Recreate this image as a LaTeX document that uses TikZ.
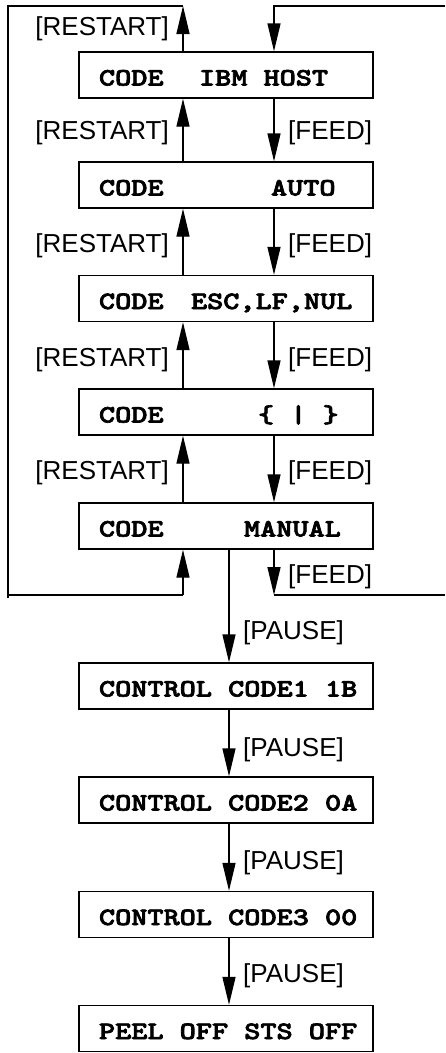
\documentclass[tikz,border=0pt]{standalone}
\usepackage{fontspec}
\usepackage{graphicx}
\usetikzlibrary{arrows.meta}
\newfontfamily\labfont{Liberation Sans}
\newfontfamily\boxfont{lmmonolt10-bold.otf}[FakeBold=2.5]
\newcommand\sx[1]{\scalebox{1.23}[1]{#1}}
\newcommand\cdline[2]{\makebox[294pt][l]{\hspace{20pt}\makebox[#1][l]{\sx{CODE}}\sx{#2}}}
\newcommand\ctline[1]{\makebox[294pt][l]{\hspace{20pt}\sx{#1}}}
\begin{document}
\begin{tikzpicture}[x=1pt,y=-1pt,
  box/.style={draw, line width=1.4pt, minimum width=294pt, minimum height=46pt, inner sep=0pt,
    text height=21pt, text depth=0pt, font=\boxfont\fontsize{25}{25}\selectfont},
  arr/.style={line width=1.4pt, -{Triangle[length=28pt,width=13pt]}},
  ln/.style={line width=1.4pt},
  lab/.style={inner sep=0pt, font=\labfont\fontsize{26}{26}\selectfont}]
\useasboundingbox (0,0) rectangle (445,1053);
% boxes
\node[box] (b1) at (226,75) {\cdline{100pt}{IBM HOST}};
\node[box] (b2) at (226,185) {\cdline{172pt}{AUTO}};
\node[box] (b3) at (226,298.5) {\cdline{92pt}{ESC,LF,NUL}};
\node[box] (b4) at (226,412) {\cdline{159pt}{\{ | \}}};
\node[box] (b5) at (226,526) {\cdline{145pt}{MANUAL}};
\node[box] (c1) at (226,686) {\ctline{CONTROL CODE1 1B}};
\node[box] (c2) at (226,800) {\ctline{CONTROL CODE2 0A}};
\node[box] (c3) at (226,914.5) {\ctline{CONTROL CODE3 00}};
\node[box] (c4) at (226,1028.5) {\ctline{PEEL OFF STS OFF}};
% reference columns and corners
\coordinate (ux) at (183,0);
\coordinate (dx) at (274,0);
\coordinate (px) at (229,0);
\coordinate (tl1) at (183,6);
\coordinate (tl2) at (8,6);
\coordinate (bl1) at (8,595);
\coordinate (bl1e) at (8,598);
\coordinate (bl2) at (183,595);
\coordinate (tr1) at (445,6);
\coordinate (tr2) at (274,6);
\coordinate (br1) at (274,595);
\coordinate (br2) at (445,595);
% restart arrows
\draw[arr] (b2.north -| ux) -- (b1.south -| ux);
\draw[arr] (b3.north -| ux) -- (b2.south -| ux);
\draw[arr] (b4.north -| ux) -- (b3.south -| ux);
\draw[arr] (b5.north -| ux) -- (b4.south -| ux);
\draw[arr] (b1.north -| ux) -- (tl1);
\draw[ln] (tl1) -- (tl2) -- (bl1e);
\draw[ln] (bl1) -- (bl2);
\draw[arr] (bl2) -- (b5.south -| ux);
% feed arrows
\draw[arr] (tr1) -- (tr2) -- (b1.north -| dx);
\draw[arr] (b1.south -| dx) -- (b2.north -| dx);
\draw[arr] (b2.south -| dx) -- (b3.north -| dx);
\draw[arr] (b3.south -| dx) -- (b4.north -| dx);
\draw[arr] (b4.south -| dx) -- (b5.north -| dx);
\draw[arr] (b5.south -| dx) -- (br1);
\draw[ln] (br1) -- (br2);
% pause arrows
\draw[arr] (b5.south -| px) -- (c1.north -| px);
\draw[arr] (c1.south -| px) -- (c2.north -| px);
\draw[arr] (c2.south -| px) -- (c3.north -| px);
\draw[arr] (c3.south -| px) -- (c4.north -| px);
% labels
\node[lab, anchor=east] (r0) at (169,28.5) {[RESTART]};
\node[lab, anchor=east] (r1) at (169,133) {[RESTART]};
\node[lab, anchor=east] (r2) at (169,245.5) {[RESTART]};
\node[lab, anchor=east] (r3) at (169,359.5) {[RESTART]};
\node[lab, anchor=east] (r4) at (169,473) {[RESTART]};
\node[lab, anchor=west] (f1) at (288,133) {[FEED]};
\node[lab, anchor=west] (f2) at (288,245.5) {[FEED]};
\node[lab, anchor=west] (f3) at (288,359.5) {[FEED]};
\node[lab, anchor=west] (f4) at (288,473) {[FEED]};
\node[lab, anchor=west] (f5) at (288,577) {[FEED]};
\node[lab, anchor=west] (p1) at (243,633) {[PAUSE]};
\node[lab, anchor=west] (p2) at (243,750) {[PAUSE]};
\node[lab, anchor=west] (p3) at (243,863) {[PAUSE]};
\node[lab, anchor=west] (p4) at (243,976) {[PAUSE]};
\end{tikzpicture}
\end{document}
